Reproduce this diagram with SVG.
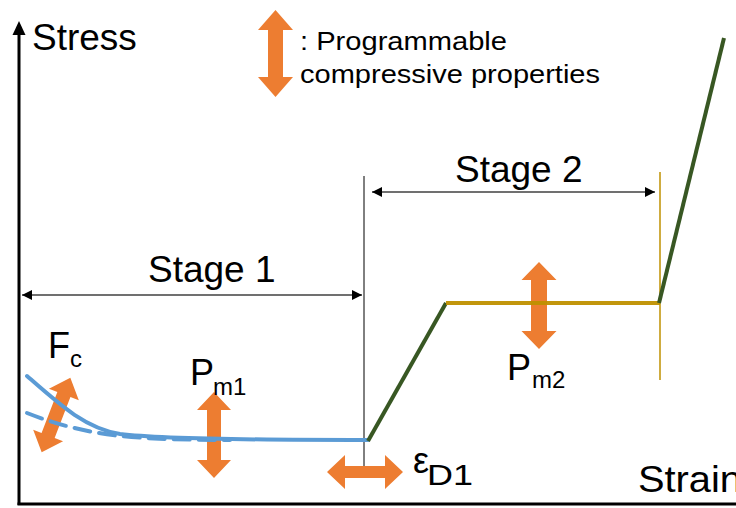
<svg xmlns="http://www.w3.org/2000/svg" width="736" height="508" viewBox="0 0 736 508">
<defs>
<style>
text{font-family:"Liberation Sans",Arial,sans-serif;fill:#000}
.big{font-size:37px}
.mid{font-size:36px}
.sub{font-size:24px}
.leg{font-size:26px}
.arr{fill:#ED7D31}
.dim{stroke:#404040;stroke-width:1.5;fill:none;marker-start:url(#ah);marker-end:url(#ah)}
.blue{stroke:#5B9BD5;stroke-width:4;fill:none;stroke-linecap:round}
.green{stroke:#385723;stroke-width:4;fill:none;stroke-linejoin:round}
</style>
<marker id="ah" viewBox="0 0 10 10" refX="10" refY="5" markerWidth="10" markerHeight="10" markerUnits="userSpaceOnUse" orient="auto-start-reverse">
<path d="M0,0 L10,5 L0,10 z" fill="#000"/>
</marker>
</defs>
<rect width="736" height="508" fill="#fff"/>

<g id="axes">
<line x1="19" y1="32" x2="19" y2="505" stroke="#000" stroke-width="3"/>
<polygon points="19,21 25.5,35 12.5,35" fill="#000"/>
<line x1="17.5" y1="504" x2="736" y2="504" stroke="#000" stroke-width="3"/>
<text class="big" x="32" y="50">Stress</text>
<text class="big" x="638" y="492" textLength="104" lengthAdjust="spacingAndGlyphs">Strain</text>
</g>

<g id="legend">
<polygon class="arr" points="275.5,10 293,30 283,30 283,77 293,77 275.5,97 258,77 268,77 268,30 258,30"/>
<text class="leg" x="300" y="50" textLength="207" lengthAdjust="spacingAndGlyphs">: Programmable</text>
<text class="leg" x="300" y="83" textLength="300" lengthAdjust="spacingAndGlyphs">compressive properties</text>
</g>

<g id="connectors">
<line x1="364" y1="176" x2="364" y2="467" stroke="#000" stroke-width="1"/>
<line x1="660" y1="172" x2="660" y2="380" stroke="#BF9000" stroke-width="1.5"/>
<line class="dim" x1="22" y1="295" x2="362" y2="295"/>
<line class="dim" x1="372" y1="192" x2="655" y2="192"/>
</g>

<g id="stage1"><text class="big" x="148" y="282">Stage 1</text></g>
<g id="stage2"><text class="big" x="455" y="182">Stage 2</text></g>

<g id="arrows">
<polygon class="arr" transform="translate(56,415) rotate(21)" points="0,-40 16,-22 7,-22 7,22 16,22 0,40 -16,22 -7,22 -7,-22 -16,-22"/>
<polygon class="arr" points="214,392 231,410 221,410 221,460 231,460 214,478 197,460 207,460 207,410 197,410"/>
<polygon class="arr" points="539,262 556.5,280 547,280 547,331 556.5,331 539,349 521.5,331 531,331 531,280 521.5,280"/>
<polygon class="arr" points="327,472 345,455 345,466 385,466 385,455 403,472 385,489 385,478 345,478 345,489"/>
</g>

<g id="curves">
<path class="blue" d="M27,376 C60,405 85,428 120,434 C160,439 250,440 368,440"/>
<path class="blue" stroke-width="4.5" stroke-dasharray="16,9" stroke-linecap="butt" d="M27,413 C55,424 85,432 120,436 C150,439 190,440 230,440"/>
<polyline class="green" points="368,441 446,303"/>
<line x1="446" y1="303" x2="660" y2="303" stroke="#BF9000" stroke-width="4" stroke-opacity="0.95"/>
<polyline class="green" points="659,303 724,38"/>
</g>

<g id="labels">
<text class="mid" x="48" y="358">F</text><text class="sub" x="70" y="367">c</text>
<text class="mid" x="190" y="385">P</text><text class="sub" x="213" y="395">m1</text>
<text class="mid" x="507" y="380">P</text><text class="sub" x="532" y="388">m2</text>
<text class="mid" x="413" y="473">ε</text><text style="font-size:29px" x="427" y="485" textLength="46" lengthAdjust="spacingAndGlyphs">D1</text>
</g>
</svg>
